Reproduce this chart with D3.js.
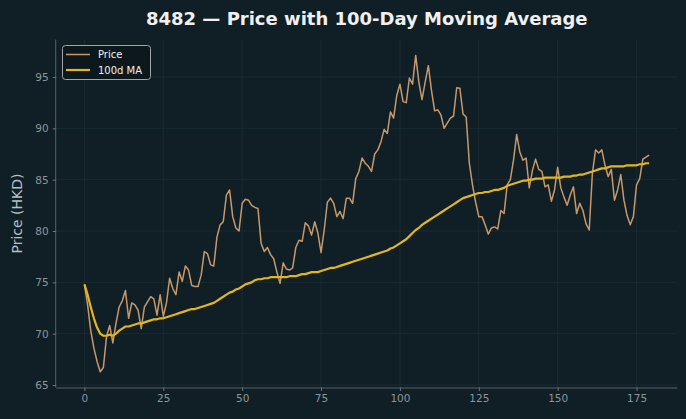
<!DOCTYPE html>
<html><head><meta charset="utf-8">
<script src="https://cdn.jsdelivr.net/npm/d3@7"></script>
<style>html,body{margin:0;padding:0;background:#101f26;}svg{display:block;}</style>
</head><body>
<script>
const days = d3.range(0, 180);
const price = [74.8,72.8,70.3,68.6,67.3,66.3,66.7,69.7,70.8,69.1,71.0,72.6,73.2,74.2,71.5,73.0,72.8,72.3,70.5,72.6,
73.1,73.6,73.4,71.8,73.8,71.7,73.0,75.4,74.4,73.8,76.0,75.1,76.6,76.2,74.7,74.6,74.6,75.7,78.0,77.8,
76.7,76.6,79.4,80.6,80.9,83.5,84.0,81.4,80.3,80.0,82.7,83.1,83.0,82.5,82.3,82.2,78.8,78.0,78.4,77.7,
77.3,76.0,74.9,76.9,76.3,76.2,76.4,78.4,79.1,79.0,80.8,80.5,79.6,80.9,79.8,77.9,80.1,82.8,83.2,82.7,
81.4,81.9,81.2,83.2,83.2,82.7,85.1,85.8,87.1,86.6,86.3,85.8,87.5,87.9,88.7,89.9,89.5,91.6,91.0,93.2,
94.3,92.6,92.5,94.9,94.3,97.1,94.5,92.8,94.5,96.1,93.7,91.7,91.8,91.3,90.0,90.5,91.0,91.2,93.95,93.9,
91.4,91.1,86.6,84.5,82.8,81.4,81.4,80.6,79.7,80.3,80.4,80.2,82.0,81.7,84.5,85.0,86.9,89.4,87.7,86.9,
87.1,84.2,85.9,87.0,86.0,85.8,84.3,84.5,82.9,84.0,86.2,84.2,83.3,82.5,83.5,84.3,81.7,82.7,82.0,80.7,
80.1,85.6,87.9,87.6,87.9,86.4,85.3,86.0,83.0,84.0,85.5,83.0,81.5,80.6,81.4,84.5,85.1,87.0,87.2,87.4];
const ma100 = [74.8,73.8,72.6,71.5,70.6,70.0,69.8,69.8,69.9,69.8,70.0,70.3,70.5,70.7,70.7,70.8,70.9,71.0,71.0,71.1,
71.2,71.3,71.4,71.4,71.5,71.5,71.6,71.7,71.8,71.9,72.0,72.1,72.2,72.3,72.4,72.4,72.5,72.6,72.7,72.8,
72.9,73.0,73.2,73.4,73.6,73.8,74.0,74.1,74.3,74.4,74.6,74.8,74.9,75.0,75.2,75.3,75.3,75.4,75.4,75.5,
75.5,75.5,75.5,75.5,75.5,75.6,75.6,75.6,75.7,75.8,75.8,75.9,76.0,76.0,76.0,76.1,76.2,76.3,76.4,76.4,
76.5,76.6,76.7,76.8,76.9,77.0,77.1,77.2,77.3,77.4,77.5,77.6,77.7,77.8,77.9,78.0,78.1,78.3,78.4,78.6,
78.8,79.0,79.2,79.5,79.8,80.1,80.3,80.6,80.8,81.0,81.2,81.4,81.6,81.8,82.0,82.2,82.4,82.6,82.8,83.0,
83.2,83.3,83.4,83.5,83.6,83.7,83.7,83.8,83.8,83.9,84.0,84.0,84.1,84.2,84.4,84.5,84.6,84.7,84.8,84.9,
84.9,85.0,85.0,85.1,85.1,85.1,85.2,85.2,85.2,85.2,85.2,85.2,85.3,85.3,85.3,85.4,85.4,85.5,85.5,85.6,
85.7,85.8,85.9,86.0,86.1,86.1,86.2,86.3,86.3,86.3,86.3,86.3,86.4,86.4,86.4,86.4,86.5,86.5,86.6,86.6];
const xTicks = [0,25,50,75,100,125,150,175];
const yTicks = [65,70,75,80,85,90,95];
const title = "8482 \u2014 Price with 100-Day Moving Average";
const yLabel = "Price (HKD)";
const seriesNames = ["Price","100d MA"];

const W = 686, H = 419;
const m = {left:56.2, right:677.4, top:39.6, bottom:387.5};
const svg = d3.select("body").append("svg").attr("width",W).attr("height",H)
  .style("font-family","'DejaVu Sans', sans-serif");
svg.append("rect").attr("width",W).attr("height",H).attr("fill","#101f26");

const x = d3.scaleLinear().domain([-8.95,187.95]).range([m.left,m.right]);
const y = d3.scaleLinear().domain([64.76,98.64]).range([m.bottom,m.top]);

const grid = svg.append("g");
grid.selectAll(".gx").data(xTicks).enter().append("line")
  .attr("x1",d=>x(d)).attr("x2",d=>x(d)).attr("y1",m.top).attr("y2",m.bottom)
  .attr("stroke","#1c2d35").attr("stroke-width",0.8);
grid.selectAll(".gy").data(yTicks).enter().append("line")
  .attr("x1",m.left).attr("x2",m.right).attr("y1",d=>y(d)).attr("y2",d=>y(d))
  .attr("stroke","#1c2d35").attr("stroke-width",0.8);

const xAxis = svg.append("g").attr("transform",`translate(0,${m.bottom})`)
  .call(d3.axisBottom(x).tickValues(xTicks).tickSize(3.5).tickPadding(4));
const yAxis = svg.append("g").attr("transform",`translate(${m.left},0)`)
  .call(d3.axisLeft(y).tickValues(yTicks).tickSize(3.5).tickPadding(4));
[xAxis,yAxis].forEach(a=>{
  a.select(".domain").attr("stroke","#5a6266").attr("stroke-width",1);
  a.selectAll(".tick line").attr("stroke","#6b7479");
  a.selectAll(".tick text").attr("fill","#8d959a").style("font-size","10.5px")
    .style("font-family","'DejaVu Sans', sans-serif");
});
xAxis.select(".domain").attr("d",`M${m.left},0.5H${m.right}`);
yAxis.select(".domain").attr("d",`M-0.5,${m.bottom}V${m.top}`);

const line = (arr)=>d3.line().x((d,i)=>x(days[i])).y(d=>y(d))(arr);
svg.append("path").attr("d",line(price)).attr("fill","none")
  .attr("stroke","#c6996c").attr("stroke-width",1.5).attr("stroke-linejoin","round");
svg.append("path").attr("d",line(ma100)).attr("fill","none")
  .attr("stroke","#e3b61f").attr("stroke-width",2.2).attr("stroke-linejoin","round");

svg.append("text").attr("x",(m.left+m.right)/2).attr("y",24.5).attr("text-anchor","middle")
  .attr("fill","#f0f0f0").style("font-size","18px").style("font-weight","bold").text(title);
svg.append("text").attr("transform",`translate(22,${(m.top+m.bottom)/2}) rotate(-90)`)
  .attr("text-anchor","middle").attr("fill","#b8bfc3").style("font-size","14px").text(yLabel);

const lg = svg.append("g");
lg.append("rect").attr("x",62.5).attr("y",45.5).attr("width",88).attr("height",34).attr("rx",3)
  .attr("fill","#0d181d").attr("stroke","#a0a6a9").attr("stroke-width",1);
const colors = ["#c6996c","#e3b61f"], widths=[1.5,2.2];
seriesNames.forEach((n,i)=>{
  const yy = 54.5 + i*15.5;
  lg.append("line").attr("x1",66).attr("x2",90).attr("y1",yy).attr("y2",yy)
    .attr("stroke",colors[i]).attr("stroke-width",widths[i]);
  lg.append("text").attr("x",98).attr("y",yy+3.8).attr("fill","#f0f0f0")
    .style("font-size","10px").text(n);
});
</script>
</body></html>
